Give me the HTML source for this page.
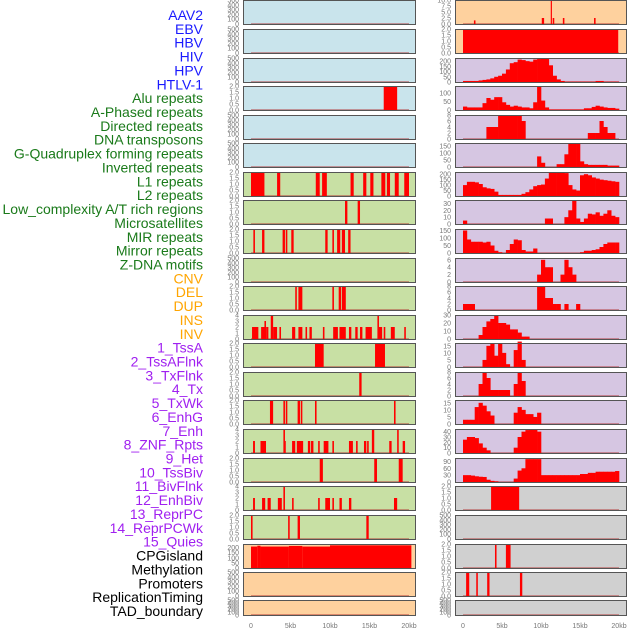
<!DOCTYPE html>
<html><head><meta charset="utf-8">
<style>
html,body{margin:0;padding:0;background:#fff;}
svg{display:block;font-family:"Liberation Sans",sans-serif;}
</style></head>
<body>
<svg id="chart" width="630" height="630" viewBox="0 0 630 630" xmlns="http://www.w3.org/2000/svg"></svg>
<script>
// ---- labels ----
const trackLabels = ["AAV2","EBV","HBV","HIV","HPV","HTLV-1","Alu repeats","A-Phased repeats","Directed repeats","DNA transposons","G-Quadruplex forming repeats","Inverted repeats","L1 repeats","L2 repeats","Low_complexity A/T rich regions","Microsatellites","MIR repeats","Mirror repeats","Z-DNA motifs","CNV","DEL","DUP","INS","INV","1_TssA","2_TssAFlnk","3_TxFlnk","4_Tx","5_TxWk","6_EnhG","7_Enh","8_ZNF_Rpts","9_Het","10_TssBiv","11_BivFlnk","12_EnhBiv","13_ReprPC","14_ReprPCWk","15_Quies","CPGisland","Methylation","Promoters","ReplicationTiming","TAD_boundary"];
const labelGroups = ["v","v","v","v","v","v","r","r","r","r","r","r","r","r","r","r","r","r","r","c","c","c","c","c","s","s","s","s","s","s","s","s","s","s","s","s","s","s","s","o","o","o","o","o"];
const xTickLabels = ["0","5kb","10kb","15kb","20kb"];
const xTickValues = [0,5,10,15,20];

// ---- middle column: segments [startKb, endKb, value] ----
const midYmax = [500,500,500,2,500,500,2,2,2,500,2,4,2,2,2,4,2,4,2,235,500,500];
const midBg = ["b","b","b","b","b","b","g","g","g","g","g","g","g","g","g","g","g","g","g","p","p","p"];
const mid4 = [[16.8,18.5,2]];
const mid7 = [[0,1.7,2],[3.3,3.7,2],[8.2,8.7,2],[9.0,9.6,2],[12.6,13.0,2],[14.2,14.6,2],[15.1,15.5,2],[16.5,17.0,2],[17.2,17.6,2],[18.2,18.7,2],[19.4,20.0,2]];
const mid8 = [[11.9,12.2,2],[13.5,13.8,2]];
const mid9 = [[0.3,0.5,2],[1.4,1.7,2],[4.0,4.3,2],[4.4,4.6,2],[5.1,5.4,2],[9.4,9.7,2],[10.3,10.5,2],[10.9,11.3,2],[11.5,11.9,2],[12.3,12.6,2]];
const mid11 = [[5.6,5.8,2],[6.0,6.5,2],[10.3,10.5,2],[11.1,11.4,2],[11.5,12.0,2]];
const mid12 = [[0.13,0.93,2],[1.28,2.0,2],[1.7,1.9,3],[2.0,2.2,2],[2.5,2.8,4],[2.8,3.3,2],[3.6,3.8,2],[5.2,5.6,2],[6.0,6.5,2],[6.9,7.1,2],[7.4,7.7,2],[9.1,9.3,2],[10.4,11.0,2],[11.2,12.0,2],[12.4,12.7,2],[13.2,13.5,2],[13.8,14.1,2],[14.5,15.3,2],[16.0,16.2,4],[16.2,16.6,2],[16.8,17.0,2],[17.7,18.2,2],[19.4,19.6,2]];
const mid13 = [[8.1,9.2,2],[15.7,16.96,2]];
const mid14 = [[13.7,14.0,2]];
const mid15 = [[2.4,2.8,2],[4.1,4.3,2],[4.4,4.6,2],[5.9,6.2,2],[6.3,6.5,2],[8.1,8.3,2],[18.1,18.3,2]];
const mid16 = [[0.26,0.5,2],[1.2,1.9,2],[4.1,4.3,4],[4.3,4.4,2],[5.2,5.6,2],[5.8,6.6,2],[7.2,7.5,2],[7.6,7.9,2],[8.5,8.7,2],[9.2,9.8,2],[10.3,10.5,2],[12.4,12.9,2],[13.3,13.5,2],[14.3,14.6,2],[14.7,14.9,2],[15.3,15.6,4],[17.5,17.8,2],[18.5,18.7,4],[19.2,19.5,2]];
const mid17 = [[8.7,9.1,2],[15.6,15.95,2],[18.7,19.2,2]];
const mid18 = [[0.26,0.5,2],[1.4,1.8,2],[2.1,2.5,2],[3.4,3.9,2],[4.1,4.3,4],[5.2,5.4,2],[8.5,8.7,2],[9.4,10.0,2],[10.3,10.5,2],[11.2,11.5,2],[12.4,12.7,2],[18.1,18.5,2]];
const mid19 = [[0,0.2,2],[4.7,4.9,2],[5.9,6.2,2],[14.6,14.9,2]];
const mid20 = [[0,0.8,210],[0.8,1.2,218],[1.2,4.8,210],[4.8,6.5,216],[6.5,10,210],[10,20.3,222]];
const midSegs = [[],[],[],mid4,[],[],mid7,mid8,mid9,[],mid11,mid12,mid13,mid14,mid15,mid16,mid17,mid18,mid19,mid20,[],[]];

// ---- right column: 0.5kb bins (40 per track) or segments ----
const rightYmax = [10,2,230,140,8,170,220,35,160,6.5,8,30,17,8,17,45,105,2,500,2,2,500];
const rightBg = ["p","p","l","l","l","l","l","l","l","l","l","l","l","l","l","l","l","y","y","y","y","y"];
const right3 = [10,10,10,10,15,20,25,35,50,60,80,120,180,190,215,210,200,195,215,220,230,225,160,60,25,10,3,3,3,3,3,3,3,3,10,10,3,3,3,3];
const right4 = [20,15,15,15,15,40,70,60,75,75,45,30,20,25,20,15,15,10,45,135,55,15,3,3,3,3,3,3,3,3,3,10,10,18,25,20,15,12,12,8];
const right5 = [0,0,0,0,0,0,4,4,4,8,8,8,8,8,8,6,0,0,0,0,0,0,0,0,0,0,0,0,0,0,0,0,2,2,2,6,4,2,2,0];
const right6 = [0,0,0,0,0,0,0,0,0,0,0,0,0,0,0,0,0,0,0,75,30,0,0,0,20,20,90,165,170,170,40,20,15,15,15,15,15,10,10,10];
const right7 = [100,130,130,125,110,80,70,65,40,10,10,10,10,10,10,20,35,60,90,100,105,160,215,220,220,215,210,100,60,50,190,200,190,170,160,150,145,140,135,130];
const right8 = [5,0,0,0,0,0,0,0,0,0,0,0,0,0,0,0,0,0,0,0,0,8,8,0,0,0,10,20,35,8,3,8,15,14,17,12,15,20,12,10];
const right9 = [150,90,75,75,75,70,75,50,15,5,0,20,60,90,85,20,10,10,30,0,0,0,0,0,0,0,0,0,0,0,5,15,15,20,25,40,60,70,70,70];
const right10 = [0,0,0,0,0,0,0,0,0,0,0,0,0,0,0,0,0,0,0,2,6,4,4,0,0,2,6,4,2,0,0,0,0,0,0,0,0,0,0,0];
const right11 = [2,2,2,0,0,0,0,0,0,0,0,0,0,0,0,0,0,0,0,8,8,4,4,2,2,0,2,0,0,2,0,0,0,0,0,0,0,0,0,0];
const right12 = [0,0,0,0,5,15,22,25,30,20,20,18,12,12,8,3,3,0,0,0,0,0,0,0,0,0,0,0,0,0,0,0,0,0,0,0,0,0,0,0];
const right13 = [0,0,0,0,0,5,15,17,8,17,10,2,0,12,18,5,0,0,0,0,0,0,0,0,0,0,0,0,0,0,0,0,0,0,0,0,0,0,0,0];
const right14 = [0,0,0,0,4,8,6,2,2,2,2,2,0,4,8,5,0,0,0,0,0,0,0,0,0,0,0,0,0,0,0,0,0,0,0,0,0,0,0,0];
const right15 = [3,3,3,12,15,13,9,6,0,0,0,0,0,8,12,10,7,7,5,8,0,0,0,0,0,0,0,0,0,0,0,0,0,0,0,0,0,0,0,0];
const right16 = [25,30,30,28,18,10,5,0,0,0,0,0,0,10,30,40,43,45,44,40,0,0,0,0,0,0,0,0,0,0,0,0,0,0,0,0,0,0,0,0];
const right17 = [30,30,28,25,23,22,10,5,3,0,0,0,0,15,50,60,100,100,100,100,30,30,30,30,30,30,30,30,30,30,35,35,40,40,45,45,45,45,45,48];
const rightSeg1 = [[1.4,1.6,1.5],[10.1,10.4,2.5],[11.25,11.4,10],[11.5,11.7,2.5],[12.8,13.0,2.5],[16.8,17.0,2.5]];
const rightSeg2 = [[0,19.9,2]];
const rightSeg18 = [[3.6,7.2,2]];
const rightSeg20 = [[4.1,4.3,2],[5.5,6.1,2]];
const rightSeg21 = [[0.4,0.8,2],[1.7,1.9,2],[3.1,3.4,2],[7.3,7.6,2]];
const rightBins = [null,null,right3,right4,right5,right6,right7,right8,right9,right10,right11,right12,right13,right14,right15,right16,right17,null,null,null,null,null];
const rightSegs = [rightSeg1,rightSeg2,[],[],[],[],[],[],[],[],[],[],[],[],[],[],[],rightSeg18,[],rightSeg20,rightSeg21,[]];
const rightTicks = [["0.0","2.5","5.0","7.5","10.0"],null,["0","50","100","150","200"],["0","50","100"],["0","2","4","6","8"],["0","50","100","150"],["0","50","100","150","200"],["0","10","20","30"],["0","50","100","150"],["0","2","4","6"],["0","2","4","6","8"],["0","10","20","30"],["0","5","10","15"],["0","2","4","6","8"],["0","5","10","15"],["0","10","20","30","40"],["0","30","60","90"],null,null,null,null,null];

// ---- drawing ----
const svg = document.getElementById('chart');
const NS = "http://www.w3.org/2000/svg";
const panelTops = [0,29,58,86,115,143,172,200,229,258,286,315,343,372,400,429,458,486,515,544,572,600];
const colors = {v:"#1a1aff",r:"#1a7a1a",c:"#ffa500",s:"#a020f0",o:"#000"};
const bgs = {b:"#c9e4ec",g:"#c8e0a4",p:"#fed19e",l:"#d6c6e2",y:"#d0d0d0"};
function mk(tag, attrs, parent){const e=document.createElementNS(NS,tag);for(const k in attrs)e.setAttribute(k,attrs[k]);(parent||svg).appendChild(e);return e;}

trackLabels.forEach((t,i)=>{
  const e=mk('text',{x:203,y:15+i*13.86+5,'text-anchor':'end','font-size':14,fill:colors[labelGroups[i]]});
  
  
  e.textContent=t;
});

function defaultTicks(ym){
  if(ym===500) return ["0","100","200","300","400","500"];
  if(ym===2) return ["0.0","0.5","1.0","1.5","2.0"];
  if(ym===4) return ["0","1","2","3","4"];
  if(ym===235) return ["0","50","100","150","200"];
  return ["0"];
}

function drawPanel(col, i, ymax, bg, segs, bins, ticks){
  const left = col===0?243:455, right = col===0?416:627;
  const x0 = col===0?251:463, x20 = col===0?409:619;
  const T = panelTops[i], H = i===21?16:25;
  const xs = kb => x0 + kb/20*(x20-x0);
  const ys = v => T+H-1 - v/ymax*(H-1);
  const g = mk('g',{});
  
  
  mk('rect',{x:left,y:T,width:right-left,height:H,fill:bgs[bg]},g);
  mk('line',{x1:xs(0),x2:xs(20),y1:T+H-1,y2:T+H-1,stroke:'#b03030','stroke-opacity':0.6,'stroke-width':1.5},g);
  (segs||[]).forEach(s=>{
    const r=mk('rect',{x:xs(s[0]),y:ys(s[2]),width:Math.max(0.8,xs(s[1])-xs(s[0])),height:T+H-1-ys(s[2]),fill:'#ff0000'},g);
    
    
  });
  if(bins){
    bins.forEach((v,k)=>{
      if(v<=0) return;
      const r=mk('rect',{x:xs(k*0.5),y:ys(v),width:xs(0.5)-xs(0)+0.3,height:T+H-1-ys(v),fill:'#ff0000'},g);
      
      
    });
  }
  mk('rect',{x:left+0.5,y:T+0.5,width:right-left-1,height:H-1,fill:'none',stroke:'#555','stroke-width':1},g);
  const tl = ticks || defaultTicks(ymax);
  tl.forEach(t=>{
    const v=parseFloat(t);
    const tt=mk('text',{x:left-4,y:ys(v)+2.5,'text-anchor':'end','font-size':7,fill:'#777'},g);
    
    
    tt.textContent=t;
  });
}

for(let i=0;i<22;i++){
  drawPanel(0,i,midYmax[i],midBg[i],midSegs[i],null,null);
  drawPanel(1,i,rightYmax[i],rightBg[i],rightSegs[i],rightBins[i],rightTicks[i]);
}

[0,1].forEach(col=>{
  const x0 = col===0?251:463, x20 = col===0?409:619;
  xTickValues.forEach((v,k)=>{
    const t=mk('text',{x:x0+v/20*(x20-x0),y:628,'text-anchor':'middle','font-size':7,fill:'#777'});
    
    
    t.textContent=xTickLabels[k];
  });
});
</script>
</body></html>
